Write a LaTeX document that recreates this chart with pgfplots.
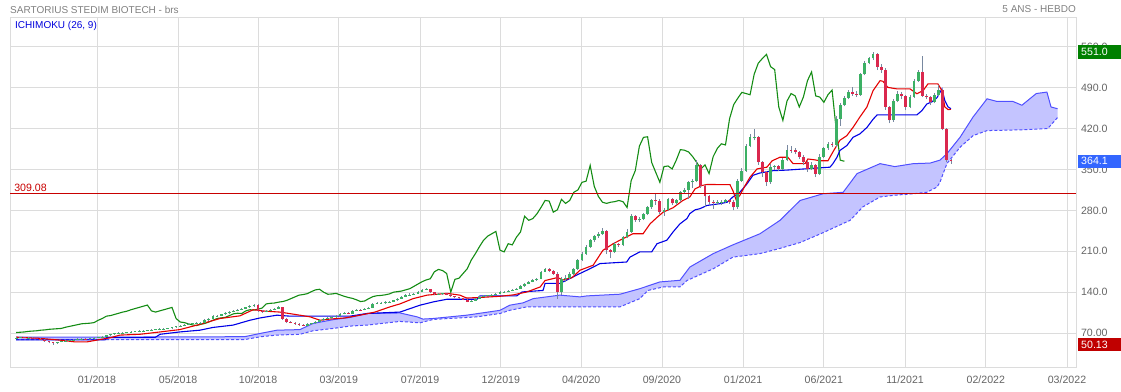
\documentclass[border=0pt]{standalone}
\usepackage{fontspec}
\setmainfont{Liberation Sans}
\usepackage{pgfplots}
\pgfplotsset{compat=1.18}
\usepackage{pgfplotstable}
\usepgfplotslibrary{fillbetween}
\definecolor{upc}{RGB}{60,176,100}
\definecolor{dnc}{RGB}{218,40,78}
\definecolor{wickc}{RGB}{120,136,160}
\definecolor{chikc}{RGB}{20,140,20}
\definecolor{tenc}{RGB}{228,0,0}
\definecolor{kijc}{RGB}{0,0,230}
\definecolor{cloudf}{RGB}{196,196,255}
\definecolor{cloudl}{RGB}{80,80,255}
\definecolor{gridc}{RGB}{220,220,220}
\definecolor{labc}{RGB}{100,100,100}
\definecolor{titc}{RGB}{128,128,128}
\definecolor{levc}{RGB}{200,0,0}
\definecolor{boxg}{RGB}{0,128,0}
\definecolor{boxb}{RGB}{51,102,255}
\definecolor{boxr}{RGB}{192,0,0}
\definecolor{ichc}{RGB}{0,0,220}

\pgfplotstableread{
i o h l c
0 61.5 63 61 62
1 62 63.5 61.5 62.5
2 62.5 63 61 61.5
3 61.5 63 61 62
4 62 62.5 60.5 61
5 61 61.5 59.5 60.5
6 60.5 61 58 59
7 59 59.5 55 56
8 56 56.5 52.5 54
9 54 55 50.13 53
10 53 55.5 52 54.5
11 54.5 57 54 56
12 56 58 55.5 57
13 57 59 56.5 58.5
14 58.5 60 58 59
15 59 61 58.5 60
16 60 61.5 59.5 60.5
17 60.5 61 59 60
18 60 62 59.5 61
19 61 63 60.5 62
20 62 64 61.5 63
21 63 65 62.5 64
22 64 67 63.5 66
23 66 69 65.5 68
24 68 70.5 67.5 69.5
25 69.5 71.5 69 70.5
26 70.5 72 70 71
27 71 72.5 70.5 71.5
28 71.5 73 71 72
29 72 74 71.5 73
30 73 74.5 72.5 73.5
31 73.5 75 73 74
32 74 76 73.5 75
33 75 76.5 74.5 75.5
34 75.5 77.5 75 76.5
35 76.5 78 76 77
36 77 78.5 76.5 77.5
37 77.5 79 77 78
38 78 81 77.5 80
39 80 82.5 79.5 81.5
40 81.5 84 81 83
41 83 85.5 82.5 84.5
42 84.5 87 84 86
43 86 88 85.5 86.5
44 86.5 88.5 85.5 87
45 87 89.5 86.5 88
46 88 93.5 87.5 92
47 92 96.5 91.5 95
48 95 100.5 94.5 99
49 99 101.5 98 100
50 100 103.5 99.5 102
51 102 105.5 101.5 104
52 104 107.5 103 106
53 106 109 105.5 107.5
54 107.5 111.5 107 110
55 110 113.5 109.5 112
56 112 115.5 111.5 114
57 114 117.5 113 116
58 116 120 115.5 118
59 118 119 106.5 108
60 108 109.5 104 106
61 106 109.5 105.5 108
62 108 111.5 107 110
63 110 113.5 109.5 112
64 112 116 111.5 114
65 114 115 93 95
66 95 96 87.5 89
67 89 91 86.5 88
68 88 89 84.5 86
69 86 87 82.5 84
70 84 85.5 82 83
71 83 86.5 82.5 85
72 85 88 84.5 86.5
73 86.5 90.5 86 89
74 89 93.5 88.5 92
75 92 96.5 91.5 95
76 95 97.5 94 96
77 96 98.5 95 97
78 97 101.5 96.5 100
79 100 104.5 99.5 103
80 103 105.5 102 104
81 104 106 102.5 103.5
82 103.5 109.5 103 108
83 108 111.5 107.5 110
84 110 112 108.5 109.5
85 109.5 112.5 109 111
86 111 114.5 110.5 113
87 113 121.5 112.5 120
88 120 123 119 121
89 121 123 120 121.5
90 121.5 124.5 120.5 123
91 123 125.5 122 124
92 124 127.5 123.5 126
93 126 130.5 125.5 129
94 129 133.5 128.5 132
95 132 136.5 131.5 135
96 135 138 134 136
97 136 139 135 137.5
98 137.5 142.5 137 141
99 141 146 140.5 144
100 144 148 143 145
101 145 146 138.5 140
102 140 141 135 136.5
103 136.5 139 135.5 137
104 137 139.5 135.5 138
105 138 139 134.5 135.5
106 135.5 136.5 132 133
107 133 134 130 131
108 131 132 128.5 129.5
109 129.5 130.5 126 127
110 127 128 122.5 124
111 124 126.5 123 125
112 125 130.5 124.5 129
113 129 134 128.5 132.5
114 132.5 135.5 132 134
115 134 136 133 134.5
116 134.5 137 134 135.5
117 135.5 138.5 135 137
118 137 141.5 136.5 140
119 140 142.5 139 141
120 141 143.5 140 142
121 142 145.5 141.5 144
122 144 147.5 143.5 146
123 146 152 145.5 150
124 150 156 149.5 154
125 154 160 153.5 158
126 158 163 157 161
127 161 165 160 163
128 163 177 162 175
129 175 182 174 179
130 179 181 174 177
131 177 178 170 172
132 172 174 128 140
133 140 166 136 162
134 162 169 158 164
135 164 174 162 172
136 172 182 170 180
137 180 197 178 195
138 195 208 193 206
139 206 220 204 218
140 218 231 216 229
141 229 238 226 236
142 236 243 233 240
143 240 250 238 244
144 244 246 205 212
145 212 214 198 209
146 209 226 207 223
147 223 225 217 221
148 221 237 219 234
149 234 249 232 243
150 243 273 241 270
151 270 272 261 263
152 263 269 260 266
153 266 276 263 274
154 274 288 272 285
155 285 300 283 297
156 297 310 290 296
157 296 299 274 277
158 277 284 271 281
159 281 302 279 299
160 299 301 289 292
161 292 299 290 297
162 297 313 295 311
163 311 318 309 315
164 315 331 300 328
165 328 333 318 330
166 330 366 328 357
167 357 360 318 321
168 321 323 286 304
169 304 306 290 294
170 294 298 282 292
171 292 297 289 294
172 294 298 290 295
173 295 300 292 297
174 297 299 291 295
175 295 297 280 285
176 285 334 283 331
177 331 352 329 348
178 348 393 346 390
179 390 410 388 405
180 405 420 400 406
181 406 408 358 362
182 362 365 338 345
183 345 347 322 328
184 328 360 326 355
185 355 358 350 356
186 356 358 347 351
187 351 370 349 366
188 366 392 364 384
189 384 390 378 383
190 383 386 376 380
191 380 382 368 372
192 372 374 358 362
193 362 364 346 351
194 351 363 349 358
195 358 360 337 343
196 343 376 341 372
197 372 389 370 386
198 386 397 384 394
199 394 397 388 392
200 392 441 388 437
201 437 464 425 461
202 461 475 458 472
203 472 486 470 482
204 482 492 476 480
205 480 484 474 478
206 478 516 476 513
207 513 535 511 532
208 532 543 530 540
209 540 551 538 547
210 547 549 520 526
211 526 530 515 521
212 521 523 452 457
213 457 459 429 434
214 434 470 432 467
215 467 484 465 480
216 480 482 470 476
217 476 478 451 457
218 457 477 455 474
219 474 505 472 502
220 502 520 500 517
221 517 545 474 476
222 476 480 470 474
223 474 476 460 465
224 465 481 463 478
225 478 495 476 486
226 486 488 417 419
227 419 421 362 366
228 366 368 360 364.1
}\candles

\pgfplotstableread{
x y
0 63
5.8 61
10.7 58
14.3 55
17.3 55
20.4 59
22.9 62
25.3 66.6
30.2 68
35.1 72
39.9 76
44.8 85
49.7 95
54.6 99.6
57.8 110
60.7 107.6
64.3 106
68 102
71.7 97.8
74.1 92
76.5 94
80.2 96
83.9 100.7
87.5 106
91.2 115
93.6 120
96.8 129
100.2 135
105.1 138
108.2 135
109.9 130
113.1 131
118 133
121.2 135.4
124.6 140.5
127.8 149
129 160
132 165
133.4 161
135.6 165
137.5 177.6
139.9 184
140.7 186
143.1 211.7
145.6 223
148 231.6
150.4 240
152.9 240
154.6 257
156.3 268
157.8 277
160.2 284.5
162.6 297
164.3 303
165.6 317
167.3 322.7
168.5 324.4
174.1 324
174.8 314
175.6 298
176.5 305.6
177.8 322.7
179 337
180.7 351
183.1 354
184.4 365
186.3 371
188.2 371
189.5 360
192.4 360
193.1 368
194.8 366.5
196 365
198 365
199.2 380
200.9 400
202.6 408
204.1 422
205.8 440
207.5 457
209 485
210.7 502
211.4 501
212.6 490.5
214.8 488
218 488
219.7 479.6
221.2 485
222.4 496.6
224.8 496.6
225.8 485
226.5 457
227.3 452.5
228 453
}\tenkan

\pgfplotstableread{
x y
0 58.5
21.7 58.5
22.1 62.6
33.9 62.6
35.1 68
39.9 72
44.8 75
48 79.7
52.9 83.7
57 92
59.5 96
63.6 100.7
66.8 99
81.4 99
85.6 103.6
93.6 106
98.5 117.8
101.7 123.4
105.1 128
112.4 128
113.1 133.7
122.1 133.7
123.4 140.5
128.5 143
129 155
132.6 155
137.5 172
139.9 180
142.4 189
148.9 191.7
149.7 200
152.1 209
155 209
156.3 223
158.7 229
160.2 243
161.9 257
163.6 266
164.3 274.5
165.6 281
166.8 283
168.5 288.5
171.7 291.5
173.4 294
174.8 303
176.5 311
178.2 325
179.7 340
181.4 344
184.6 348
188 349
198.5 354
199.2 360
200.2 371
200.9 382.5
202.6 391
204.1 405
205.8 411
207.5 422
209 436
210 443.6
219.7 443.6
220.9 450.7
222.1 462
223.4 466
224.6 473
225.8 488
226.5 468
227.3 457
228 454
}\kijun

\pgfplotstableread{
x y
0 63
45 63.5
55.8 64
59.5 69.4
63.6 75
69.2 76
72.4 86.5
77.3 93
81.4 96.8
85.6 103.6
93.6 104.5
97.8 97.8
99.2 94
101.7 95
109.9 100.7
118 109
120.4 117.8
123.6 121.7
126.1 129
132.6 135
137.5 132
139.2 133.7
147.3 136.6
152.1 146
157 157.6
161.9 160.4
164.3 183
170 206
174.8 221
181.4 240
186.3 263
191.2 297
196.8 308.5
201.7 311
205.1 343
210.7 360
214.3 355
218.8 360
222.9 361
225.3 366
227 377
230.2 405
233.4 440
236.8 471
239.2 466.5
243.1 466.5
245.3 460
248.8 480
251.4 482.5
252.4 457
254 454
}\spanA

\pgfplotstableread{
x y
0 59
55.8 59
59.5 63.7
63.6 66.6
69.2 68
72.4 74
77.3 78
81.4 82
85.6 83.7
93.6 90
98.5 87.6
101.7 93.4
112.4 97.8
118 103.6
120.4 109
124.6 115
147.3 115
152.1 129
154.1 143
157.8 149
161.9 149
163.6 160
170 180
174.8 200
181.4 206
186.3 215
191.2 225
196.2 240
203.4 263
206.5 286
210.7 303
214.3 306
218.8 308.5
222.1 311
224.6 320
225.3 328
227 360
230.2 388
233.4 408
236.8 416.6
245.8 418
251.6 420
254 439
}\spanB

\begin{document}
\begin{tikzpicture}
\begin{axis}[
  at={(0pt,0pt)}, anchor=south west,
  scale only axis, width=1066pt, height=350pt,
  xmin=-1.51, xmax=258.5, ymin=12, ymax=611,
  clip=false,
  axis line style={draw=gridc, line width=0.8pt},
  grid=major, major grid style={draw=gridc, line width=0.8pt},
  major tick length=0pt,
  xtick={19.7,39.5,59.0,78.7,98.5,118.2,137.8,157.5,177.3,197.0,216.8,236.5,256.3},
  xticklabels={01/2018,05/2018,10/2018,03/2019,07/2019,12/2019,04/2020,09/2020,01/2021,06/2021,11/2021,02/2022,03/2022},
  ytick={70,140,210,280,350,420,490,560},
  yticklabels={70.00,140.0,210.0,280.0,350.0,420.0,490.0,560.0},
  yticklabel pos=right,
  tick label style={font=\fontsize{10.6}{12}\selectfont, text=labc},
  xticklabel style={yshift=-5pt},
  yticklabel style={xshift=1.5pt},
]
% cloud
\addplot[name path=sa, draw=none, forget plot] table[x=x,y=y] {\spanA};
\addplot[name path=sb, draw=none, forget plot] table[x=x,y=y] {\spanB};
\addplot[cloudf, draw=none, forget plot] fill between[of=sa and sb];
\addplot[cloudl, line width=1pt, forget plot] table[x=x,y=y] {\spanA};
\addplot[cloudl, line width=1pt, dash pattern=on 3pt off 2pt, forget plot] table[x=x,y=y] {\spanB};
% chikou
\addplot[chikc, line width=1.1pt, forget plot, skip coords between index={0}{26}] table[x expr=\thisrow{i}-26, y=c] {\candles};
% kijun & tenkan
\addplot[kijc, line width=1.1pt, forget plot] table[x=x,y=y] {\kijun};
\addplot[tenc, line width=1.1pt, forget plot] table[x=x,y=y] {\tenkan};
% wicks
\addplot[draw=none, mark=none, forget plot,
  error bars/.cd, y dir=plus, y explicit, error mark=none,
  error bar style={line width=0.8pt, draw=wickc, solid}]
  table[x=i, y=l, y error expr=\thisrow{h}-\thisrow{l}] {\candles};
% up bodies
\addplot[draw=none, mark=none, forget plot,
  restrict expr to domain={\thisrow{c}-\thisrow{o}}{0:10000},
  error bars/.cd, y dir=plus, y explicit, error mark=none,
  error bar style={line width=2.8pt, draw=upc, solid}]
  table[x=i, y=o, y error expr=\thisrow{c}-\thisrow{o}] {\candles};
% down bodies
\addplot[draw=none, mark=none, forget plot,
  restrict expr to domain={\thisrow{o}-\thisrow{c}}{0.001:10000},
  error bars/.cd, y dir=plus, y explicit, error mark=none,
  error bar style={line width=2.8pt, draw=dnc, solid}]
  table[x=i, y=c, y error expr=\thisrow{o}-\thisrow{c}] {\candles};
% level line
\draw[levc, line width=0.8pt] (axis cs:-1.51,309.08) -- (axis cs:258.5,309.08);
\node[anchor=south west, text=levc, inner sep=0pt, font=\fontsize{10.6}{12}\selectfont] at (axis cs:-0.5,311.5) {309.08};
% value boxes
\node[anchor=west, xshift=2pt, fill=boxg, text=white, inner xsep=3pt, inner ysep=0pt, minimum height=13.5pt, text width=37pt, align=left, font=\fontsize{10.6}{12}\selectfont] at (axis cs:258.5,551) {551.0};
\node[anchor=west, xshift=2pt, fill=boxb, text=white, inner xsep=3pt, inner ysep=0pt, minimum height=13.5pt, text width=37pt, align=left, font=\fontsize{10.6}{12}\selectfont] at (axis cs:258.5,364.1) {364.1};
\node[anchor=west, xshift=2pt, fill=boxr, text=white, inner xsep=3pt, inner ysep=0pt, minimum height=13.5pt, text width=37pt, align=left, font=\fontsize{10.6}{12}\selectfont] at (axis cs:258.5,50.13) {50.13};
\end{axis}
\node[anchor=west, text=titc, inner sep=0pt, font=\fontsize{10}{12}\selectfont] at (0pt,357.5pt) {SARTORIUS STEDIM BIOTECH - brs};
\node[anchor=east, text=titc, inner sep=0pt, font=\fontsize{10}{12}\selectfont] at (1066pt,357.8pt) {5 ANS - HEBDO};
\node[anchor=west, text=ichc, inner sep=0pt, font=\fontsize{10}{12}\selectfont] at (5pt,341pt) {ICHIMOKU (26, 9)};
\pgfresetboundingbox
\path[use as bounding box] (-10pt,-24pt) rectangle (1111pt,367pt);
\end{tikzpicture}
\end{document}
